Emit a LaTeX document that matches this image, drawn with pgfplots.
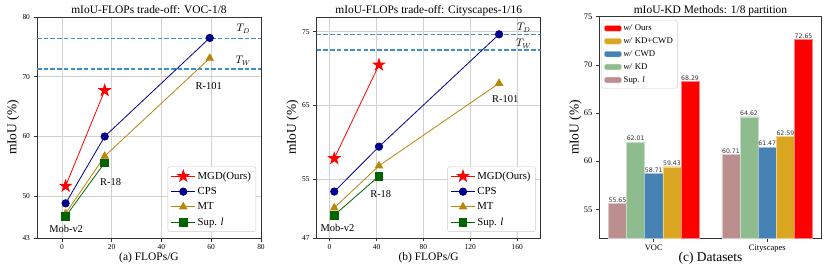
\documentclass[border=0pt]{standalone}
\usepackage{fontspec}
\setmainfont{Liberation Serif}
\newfontfamily\dejavu{DejaVu Sans}
\usepackage{pgfplots}
\pgfplotsset{compat=1.18}
\usetikzlibrary{plotmarks}

\definecolor{cps}{RGB}{0,0,139}
\definecolor{mt}{RGB}{184,134,11}
\definecolor{sup}{RGB}{0,100,0}
\definecolor{tcol}{RGB}{62,142,208}
\definecolor{cSup}{RGB}{188,143,143}
\definecolor{cKD}{RGB}{143,188,143}
\definecolor{cCWD}{RGB}{70,130,180}
\definecolor{cKDCWD}{RGB}{218,165,32}

\pgfdeclareplotmark{fstar}{%
  \pgfpathmoveto{\pgfpointpolar{90}{\pgfplotmarksize}}%
  \pgfpathlineto{\pgfpointpolar{126}{0.382\pgfplotmarksize}}%
  \pgfpathlineto{\pgfpointpolar{162}{\pgfplotmarksize}}%
  \pgfpathlineto{\pgfpointpolar{198}{0.382\pgfplotmarksize}}%
  \pgfpathlineto{\pgfpointpolar{234}{\pgfplotmarksize}}%
  \pgfpathlineto{\pgfpointpolar{270}{0.382\pgfplotmarksize}}%
  \pgfpathlineto{\pgfpointpolar{306}{\pgfplotmarksize}}%
  \pgfpathlineto{\pgfpointpolar{342}{0.382\pgfplotmarksize}}%
  \pgfpathlineto{\pgfpointpolar{18}{\pgfplotmarksize}}%
  \pgfpathlineto{\pgfpointpolar{54}{0.382\pgfplotmarksize}}%
  \pgfpathclose
  \pgfusepathqfillstroke}

\tikzset{ann/.style={font=\fontsize{10.5}{12}\selectfont}}

\pgfplotsset{
  common/.style={
    scale only axis,
    axis line style={line width=0.6bp, black!80},
    tick align=outside, xtick pos=bottom, ytick pos=left,
    major tick length=3.5bp,
    tick style={line width=0.6bp, black!80},
    /pgf/number format/assume math mode=true,
    every axis title/.style={font=\fontsize{11.5}{12}\selectfont, at={(axis description cs:0.5,1)}, anchor=base, yshift=3.5bp, inner sep=0pt},
    xlabel style={font=\fontsize{11.5}{12}\selectfont, at={(axis description cs:0.5,-0.104)}, anchor=base},
    legend cell align=left,
  },
  lineax/.style={common,
    width=224bp, height=221bp,
    grid=major, grid style={draw=black!18, line width=0.6bp},
    tick label style={font=\fontsize{7.5}{8}\selectfont},
    ylabel style={font=\fontsize{13.5}{14}\selectfont, at={(axis description cs:-0.107,0.5)}, anchor=center},
    legend style={at={(0.978,0.028)}, anchor=south east, font=\fontsize{10.8}{12}\selectfont,
      draw=black!20, rounded corners=2bp, fill=white, row sep=2.6bp, inner xsep=3bp, inner ysep=3bp},
    legend image code/.code={\draw[mark repeat=2,mark phase=2] plot coordinates {(0bp,0bp) (12bp,0bp) (24bp,0bp)};},
  },
  tdash/.style={color=tcol, line width=1.3bp, dash pattern=on 4.5bp off 2.2bp, forget plot},
}

\begin{document}
\begin{tikzpicture}
\useasboundingbox (0,0) rectangle (830bp,270bp);

% ---------- (a) ----------
\begin{axis}[lineax, at={(37bp,32bp)}, anchor=south west,
  xmin=-10, xmax=80, ymin=43, ymax=80,
  xtick={0,20,40,60,80}, ytick={43,50,60,70,80},
  title={mIoU-FLOPs trade-off: VOC-1/8},
  xlabel={(a) FLOPs/G}, ylabel={mIoU (\%)}]
\addplot[tdash] coordinates {(-10,76.4) (80,76.4)};
\addplot[tdash] coordinates {(-10,71.3) (80,71.3)};
\addplot[red, line width=0.8bp, mark=fstar, mark size=6bp, mark options={fill=red, solid}] coordinates {(1.5,51.7) (17.2,67.7)};
\addlegendentry{MGD(Ours)}
\addplot[cps, line width=0.8bp, mark=*, mark size=3.7bp, mark options={fill=cps}] coordinates {(1.5,48.8) (17.2,60.0) (59.4,76.5)};
\addlegendentry{CPS}
\addplot[mt, line width=0.8bp, mark=triangle*, mark size=4.2bp, mark options={fill=mt}] coordinates {(1.5,47.1) (17.2,56.7) (59.4,73.1)};
\addlegendentry{MT}
\addplot[sup, line width=0.8bp, mark=square*, mark size=3.8bp, mark options={fill=sup}] coordinates {(1.5,46.6) (17.2,55.6)};
\addlegendentry{Sup. \textit{l}}
\node[ann] at (axis cs:1.7,44.5) {Mob-v2};
\node[ann] at (axis cs:19.6,52.3) {R-18};
\node[ann] at (axis cs:59,68.5) {R-101};
\node[ann] at (axis cs:72.9,78.0) {$T_D$};
\node[ann] at (axis cs:72.9,72.7) {$T_W$};
\end{axis}

% ---------- (b) ----------
\begin{axis}[lineax, at={(316.7bp,32bp)}, anchor=south west,
  xmin=-11, xmax=180, ymin=47, ymax=77,
  xtick={0,40,80,120,160}, ytick={47,55,65,75},
  title={mIoU-FLOPs trade-off: Cityscapes-1/16},
  xlabel={(b) FLOPs/G}, ylabel={mIoU (\%)}]
\addplot[tdash] coordinates {(-11,74.65) (180,74.65)};
\addplot[tdash] coordinates {(-11,72.5) (180,72.5)};
\addplot[red, line width=0.8bp, mark=fstar, mark size=6bp, mark options={fill=red, solid}] coordinates {(4.0,57.8) (42.1,70.5)};
\addlegendentry{MGD(Ours)}
\addplot[cps, line width=0.8bp, mark=*, mark size=3.7bp, mark options={fill=cps}] coordinates {(4.0,53.3) (42.1,59.4) (144.5,74.65)};
\addlegendentry{CPS}
\addplot[mt, line width=0.8bp, mark=triangle*, mark size=4.2bp, mark options={fill=mt}] coordinates {(4.0,51.1) (42.1,56.8) (144.5,68.0)};
\addlegendentry{MT}
\addplot[sup, line width=0.8bp, mark=square*, mark size=3.8bp, mark options={fill=sup}] coordinates {(4.0,50.1) (42.1,55.4)};
\addlegendentry{Sup. \textit{l}}
\node[ann] at (axis cs:6.7,48.4) {Mob-v2};
\node[ann] at (axis cs:43.6,52.9) {R-18};
\node[ann] at (axis cs:149.8,65.9) {R-101};
\node[ann] at (axis cs:165.6,75.5) {$T_D$};
\node[ann] at (axis cs:165.6,73.4) {$T_W$};
\end{axis}

% ---------- (c) ----------
\begin{axis}[common, at={(599.3bp,31.7bp)}, anchor=south west,
  width=222.4bp, height=221.6bp,
  xmin=-0.48, xmax=1.48, ymin=52, ymax=75,
  xtick={0,1}, xticklabels={VOC,Cityscapes}, ytick={55,60,65,70,75},
  tick label style={font=\fontsize{8.5}{9}\selectfont},
  ylabel style={font=\fontsize{13.5}{14}\selectfont, at={(axis description cs:-0.108,0.5)}, anchor=center},
  title={mIoU-KD Methods: 1/8 partition},
  xlabel={(c) Datasets}, ylabel={mIoU (\%)},
  xlabel style={font=\fontsize{13.5}{14}\selectfont},
  reverse legend,
  legend style={at={(0.01,0.985)}, anchor=north west, font=\fontsize{8.8}{10}\selectfont,
      draw=black!20, rounded corners=2bp, fill=white, row sep=1.6bp, inner xsep=2.5bp, inner ysep=2.5bp},
  point meta=explicit symbolic,
  nodes near coords,
  nodes near coords style={font=\dejavu\fontsize{6.2}{7}\selectfont, text=black!80, inner sep=0.8bp, anchor=south},
  every axis plot/.append style={ybar, bar width=0.16, bar shift=0, area legend, line width=0.4bp},
  ]
\addplot[fill=cSup, draw=white!50!cSup] coordinates {(-0.32,55.65) [55.65] (0.68,60.71) [60.71]};
\addlegendentry{Sup. \textit{l}}
\addplot[fill=cKD, draw=white!50!cKD] coordinates {(-0.16,62.01) [62.01] (0.84,64.62) [64.62]};
\addlegendentry{\textit{w/} KD}
\addplot[fill=cCWD, draw=white!50!cCWD] coordinates {(0,58.71) [58.71] (1,61.47) [61.47]};
\addlegendentry{\textit{w/} CWD}
\addplot[fill=cKDCWD, draw=white!50!cKDCWD] coordinates {(0.16,59.43) [59.43] (1.16,62.59) [62.59]};
\addlegendentry{\textit{w/} KD+CWD}
\addplot[fill=red, draw=white!50!red] coordinates {(0.32,68.29) [68.29] (1.32,72.65) [72.65]};
\addlegendentry{\textit{w/} Ours}
\end{axis}
\end{tikzpicture}
\end{document}
